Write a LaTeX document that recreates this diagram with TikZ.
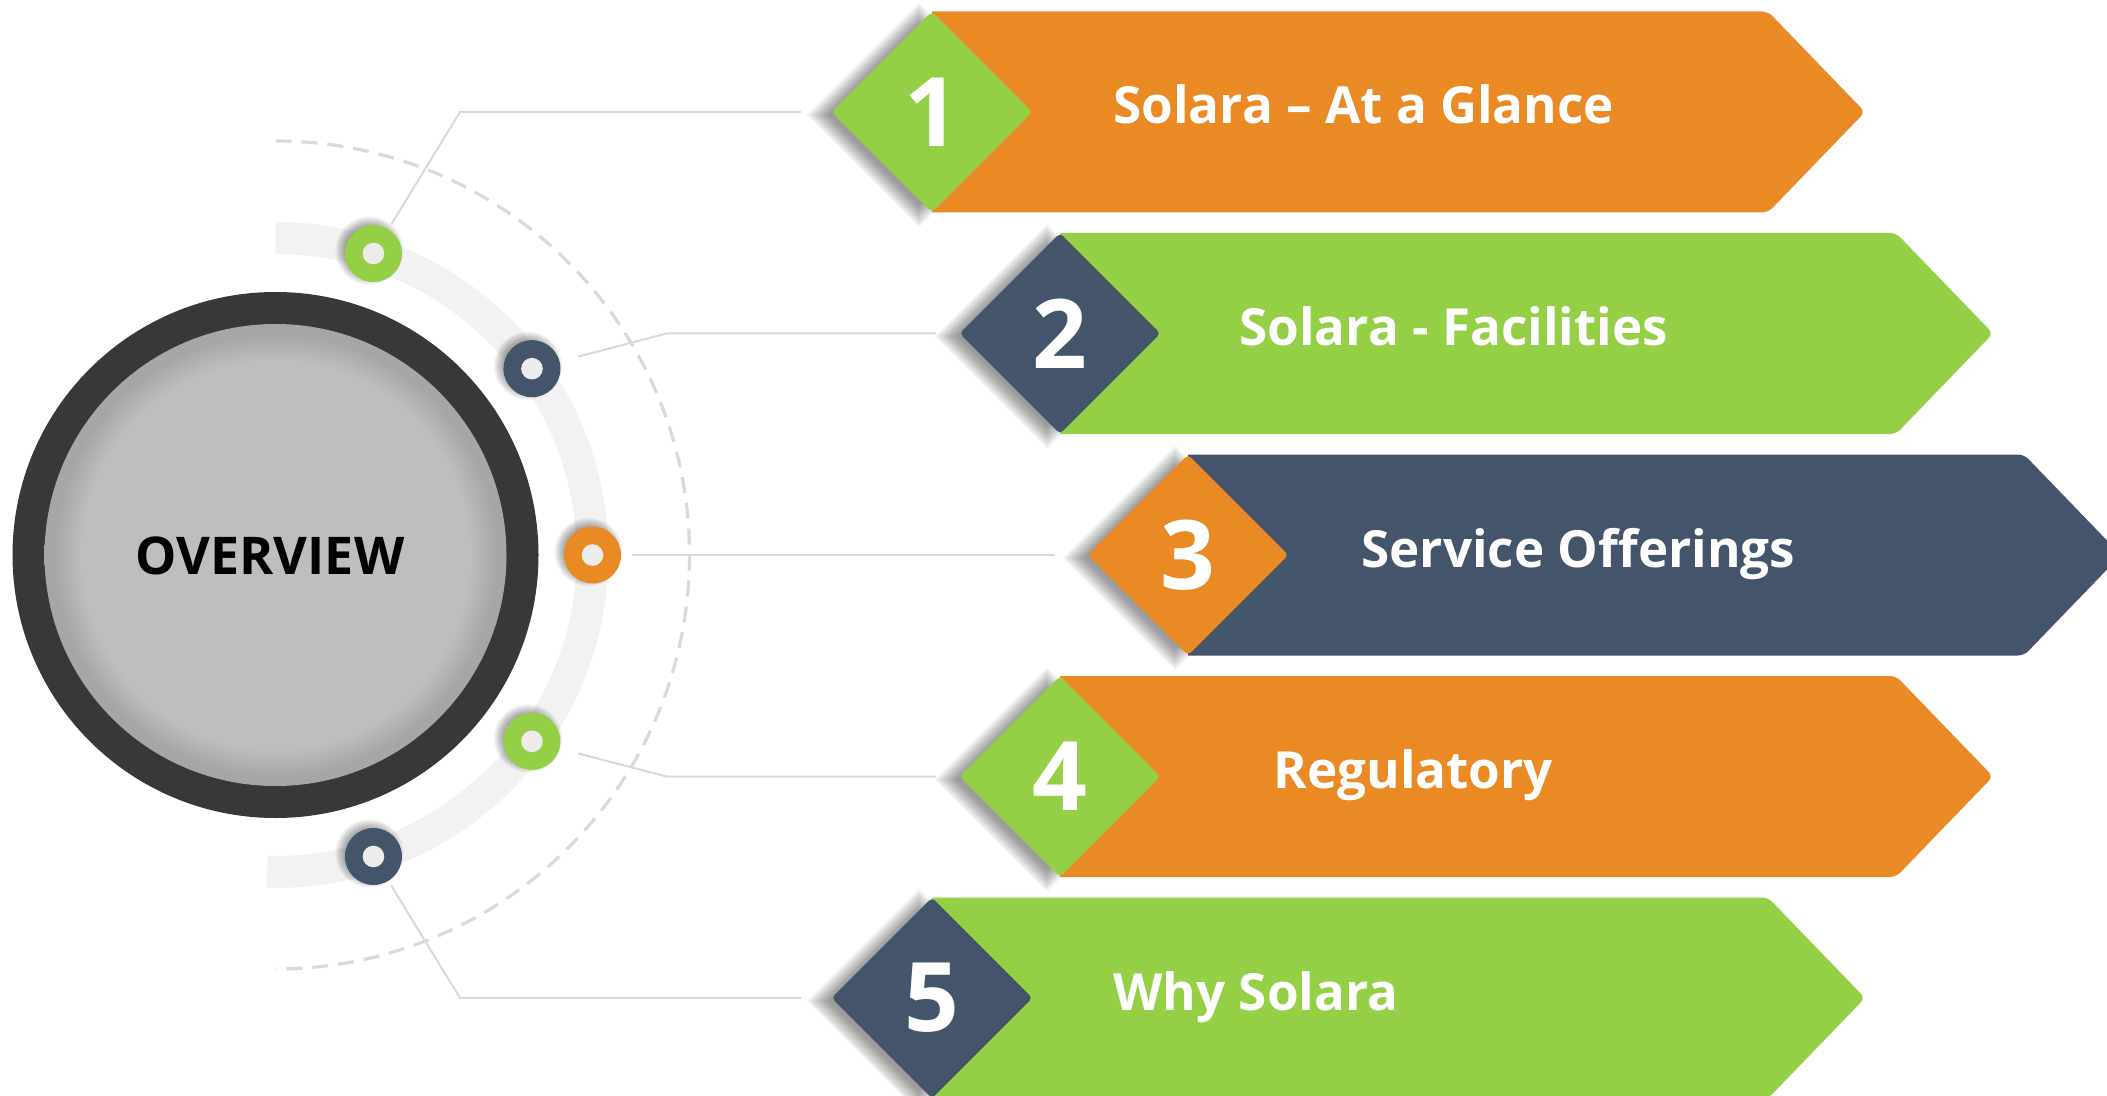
\documentclass[tikz,border=0pt]{standalone}
\usepackage{fontspec}
\setmainfont{Open Sans}
\usetikzlibrary{shapes.geometric,calc}
\definecolor{corange}{HTML}{E98A25}
\definecolor{cgreen}{HTML}{94CF45}
\definecolor{cblue}{HTML}{44546A}
\definecolor{cring}{HTML}{3A3836}
\definecolor{cgrey}{HTML}{BEBEBE}
\definecolor{cgreyd}{HTML}{A6A6A6}
\definecolor{cband}{HTML}{F2F2F2}
\definecolor{cline}{HTML}{D9D9D9}
\definecolor{chole}{HTML}{ECECEC}
\pgfdeclareradialshading{innerglow}{\pgfpoint{0bp}{0bp}}{color(0bp)=(cgrey); color(21bp)=(cgrey); color(24bp)=(cgreyd); color(25bp)=(cgreyd); color(50bp)=(cgreyd)}
\tikzset{
  conn/.style={draw=cline, line width=1pt},
  darc/.style={draw=cline, line width=1.6pt, dash pattern=on 8pt off 5pt},
  dia/.style={diamond, aspect=1, minimum width=100.5pt, minimum height=100.5pt, inner sep=0pt, rounded corners=2pt},
  num/.style={text=white, font=\bfseries\fontsize{48}{48}\selectfont, inner sep=0pt},
  lbl/.style={text=white, anchor=base west, font=\bfseries\fontsize{25.6}{26}\selectfont, inner sep=0pt},
  dotnode/.style={circle, fill=#1, minimum size=28.5pt, inner sep=0pt},
  shd/.style={fill=black, opacity=0.05},
  ovl/.style={text=black, font=\bfseries\fontsize{26}{26}\selectfont, inner sep=0pt}
}
\begin{document}
\begin{tikzpicture}[x=0.5pt,y=-0.5pt]
\useasboundingbox (0,0) rectangle (2107,1096);
\fill[white] (0,0) rectangle (2107,1096);
\coordinate (cen) at (275.5,555);
% light band and dashed arc
\draw[cband, line width=16pt] ([shift={(-90:317)}]cen) arc[start angle=-90, end angle=91.5, radius=317];
\draw[darc] ([shift={(-90:414)}]cen) arc[start angle=-90, end angle=90, radius=414];
% central circle
\fill[cring] (cen) circle[radius=263];
\shade[shading=innerglow] (cen) circle[radius=231];
\node[ovl] (ov) at (270,556) {OVERVIEW};
% dots
\foreach \k/\a in {1/-72,2/-36,3/0,4/36,5/72}{
  \foreach \s in {0,...,7}{\fill[shd] ([shift={(\a:317)}]cen) ++(-4,-3) circle[radius=34-1.4*\s];}
}
\node[dotnode=cgreen] (dot1) at ([shift={(-72:317)}]cen) {};
\node[dotnode=cblue] (dot2) at ([shift={(-36:317)}]cen) {};
\node[dotnode=corange] (dot3) at ([shift={(0:317)}]cen) {};
\node[dotnode=cgreen] (dot4) at ([shift={(36:317)}]cen) {};
\node[dotnode=cblue] (dot5) at ([shift={(72:317)}]cen) {};
\foreach \k in {1,...,5}{\fill[chole] (dot\k) circle[radius=10.8];}
% banners
\foreach \i/\cy/\cx/\bc/\dc/\tx/\lab in {
  1/112/932/corange/cgreen/1113/{Solara – At a Glance},
  2/333.5/1060/cgreen/cblue/1239/{Solara - Facilities},
  3/555/1188/cblue/corange/1361/{Service Offerings},
  4/776.5/1060/corange/cgreen/1273/{Regulatory},
  5/998/932/cgreen/cblue/1113/{Why Solara}}{
  \foreach \s in {0,...,8}{
    \pgfmathsetmacro\h{112-2.6*\s}
    \fill[shd] (\cx-13-\h,\cy+3) -- (\cx-13,\cy+3-\h) -- (\cx-13+\h,\cy+3) -- (\cx-13,\cy+3+\h) -- cycle;}
  \fill[\bc] (\cx,\cy-100.5) {[rounded corners=3pt] -- (\cx+836,\cy-100.5) -- (\cx+933,\cy) -- (\cx+836,\cy+100.5)} -- (\cx,\cy+100.5) -- cycle;
  \node[dia, fill=\dc] (dia\i) at (\cx,\cy) {};
  \node[num] (num\i) at (dia\i) {\i};
  \node[lbl] (lab\i) at (\tx,\cy+12) {\lab};
}
% connectors
\coordinate (k1) at (460,112);
\coordinate (k2) at (666.5,333.5);
\coordinate (k4) at (666.5,776.5);
\coordinate (k5) at (460,998);
\draw[conn] ($(dot1)!17pt!(k1)$) -- (k1) -- ([xshift=-15pt]dia1.west);
\draw[conn] ($(dot2)!24pt!(k2)$) -- (k2) -- ([xshift=-11.5pt]dia2.west);
\draw[conn] ($(dot3)!19.5pt!(dia3.west)$) -- ([xshift=-16pt]dia3.west);
\draw[conn] ($(dot4)!24pt!(k4)$) -- (k4) -- ([xshift=-11.5pt]dia4.west);
\draw[conn] ($(dot5)!17pt!(k5)$) -- (k5) -- ([xshift=-15pt]dia5.west);
\end{tikzpicture}
\end{document}
